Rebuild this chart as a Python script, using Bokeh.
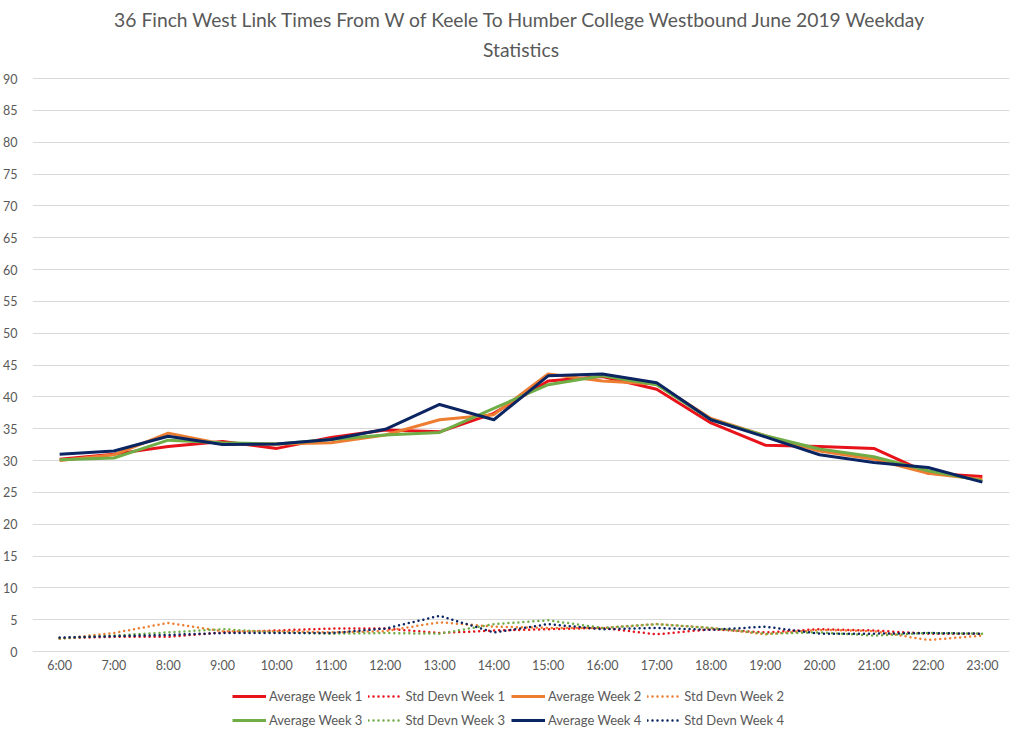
from bokeh.plotting import figure
from bokeh.models import FactorRange, Range1d, FixedTicker, Legend, LegendItem, Title
from bokeh.core.properties import value
from bokeh.embed import file_html
from bokeh.resources import INLINE

hours = ["6:00", "7:00", "8:00", "9:00", "10:00", "11:00", "12:00", "13:00", "14:00",
         "15:00", "16:00", "17:00", "18:00", "19:00", "20:00", "21:00", "22:00", "23:00"]

avg_week1 = [30.2, 31.0, 32.2, 33.0, 31.9, 33.6, 34.8, 34.5, 37.4, 42.5, 43.2, 41.2, 35.9, 32.4, 32.2, 31.9, 28.0, 27.5]
avg_week2 = [30.0, 30.9, 34.3, 32.6, 32.6, 32.8, 34.0, 36.4, 37.2, 43.6, 42.5, 42.0, 36.6, 33.9, 31.5, 30.2, 28.0, 27.0]
avg_week3 = [30.1, 30.4, 33.2, 32.8, 32.6, 33.3, 34.0, 34.4, 38.2, 41.9, 43.3, 41.9, 36.4, 33.9, 31.8, 30.6, 28.4, 26.8]
avg_week4 = [31.0, 31.5, 33.8, 32.5, 32.6, 33.3, 34.9, 38.8, 36.4, 43.3, 43.6, 42.2, 36.4, 33.7, 30.9, 29.7, 28.9, 26.6]

std_week1 = [2.1, 2.3, 2.3, 3.0, 3.3, 3.6, 3.6, 2.9, 3.3, 3.5, 3.7, 2.7, 3.5, 3.0, 3.5, 3.3, 2.8, 2.8]
std_week2 = [2.0, 2.9, 4.5, 3.2, 3.2, 3.0, 3.2, 4.6, 3.9, 3.7, 3.7, 4.3, 3.7, 2.7, 3.4, 3.2, 1.8, 2.5]
std_week3 = [2.1, 2.5, 3.0, 3.5, 3.0, 2.8, 2.9, 2.8, 4.3, 4.9, 3.7, 4.3, 3.7, 2.8, 3.0, 2.5, 2.9, 2.8]
std_week4 = [2.2, 2.4, 2.6, 2.9, 2.9, 2.9, 3.6, 5.6, 3.0, 4.3, 3.5, 3.7, 3.4, 3.9, 2.8, 2.8, 2.9, 2.8]

y_ticks = list(range(0, 95, 5))

title_line1 = "36 Finch West Link Times From W of Keele To Humber College Westbound June 2019 Weekday"
title_line2 = "Statistics"

FONT = "Lato"
TXT = "#595959"
colors = ["#E8121B", "#ED7D31", "#70AD47", "#0B2462"]

# pixel layout: 573px for 0..90, empty headroom above 90 and room below 0
# for the category labels and the legend
px_per_unit = 573 / 90
headroom_px = 18
footer_px = 78
y_top = 90 + headroom_px / px_per_unit
y_bottom = -footer_px / px_per_unit
label_offset = 14 / px_per_unit

p = figure(x_range=FactorRange(factors=hours, range_padding=0),
           y_range=Range1d(y_bottom, y_top),
           frame_width=977, frame_height=573 + headroom_px + footer_px,
           output_backend="svg", toolbar_location=None,
           min_border_left=25, min_border_right=6, min_border_top=0, min_border_bottom=0)

p.title.text = title_line1
p.title.align = "center"
p.title.text_font = FONT
p.title.text_font_size = "19.3px"
p.title.text_font_style = "normal"
p.title.text_color = TXT
p.title.standoff = 10

t2 = Title(text=title_line2, align="center", text_font=FONT, text_font_size="19.3px",
           text_font_style="normal", text_color=TXT, standoff=0)
p.add_layout(t2, "above")

p.outline_line_color = None
p.xgrid.grid_line_color = None
p.ygrid.grid_line_color = "#d9d9d9"
p.ygrid.grid_line_width = 1

p.yaxis.ticker = FixedTicker(ticks=y_ticks)
p.yaxis.axis_line_color = None
p.yaxis.major_tick_line_color = None
p.yaxis.minor_tick_line_color = None
p.yaxis.major_label_standoff = 9
p.yaxis.major_label_text_font = FONT
p.yaxis.major_label_text_font_size = "12.5px"
p.yaxis.major_label_text_color = TXT

p.xaxis.visible = False

# category labels under the zero line
p.text(x=hours, y=[-label_offset] * len(hours), text=hours,
       text_font=value(FONT), text_font_size="12.5px", text_color=TXT,
       text_align="center", text_baseline="middle")

avgs = [avg_week1, avg_week2, avg_week3, avg_week4]
stds = [std_week1, std_week2, std_week3, std_week4]

items = []
for i in range(4):
    ra = p.line(hours, avgs[i], line_color=colors[i], line_width=3, line_join="round")
    rs = p.line(hours, stds[i], line_color=colors[i], line_width=2.5, line_dash="0 5", line_cap="round")
    items.append(LegendItem(label=f"Average Week {i+1}", renderers=[ra]))
    items.append(LegendItem(label=f"Std Devn Week {i+1}", renderers=[rs]))

legend = Legend(items=items, orientation="horizontal", nrows=2,
                location=(200, 0), border_line_color=None, background_fill_alpha=0,
                label_text_font=FONT, label_text_font_size="13px", label_text_color=TXT,
                glyph_width=34, glyph_height=18, label_standoff=3, spacing=6,
                padding=0, margin=0, label_height=18)
p.add_layout(legend, "center")

open("out.html", "w").write(file_html(p, INLINE))
